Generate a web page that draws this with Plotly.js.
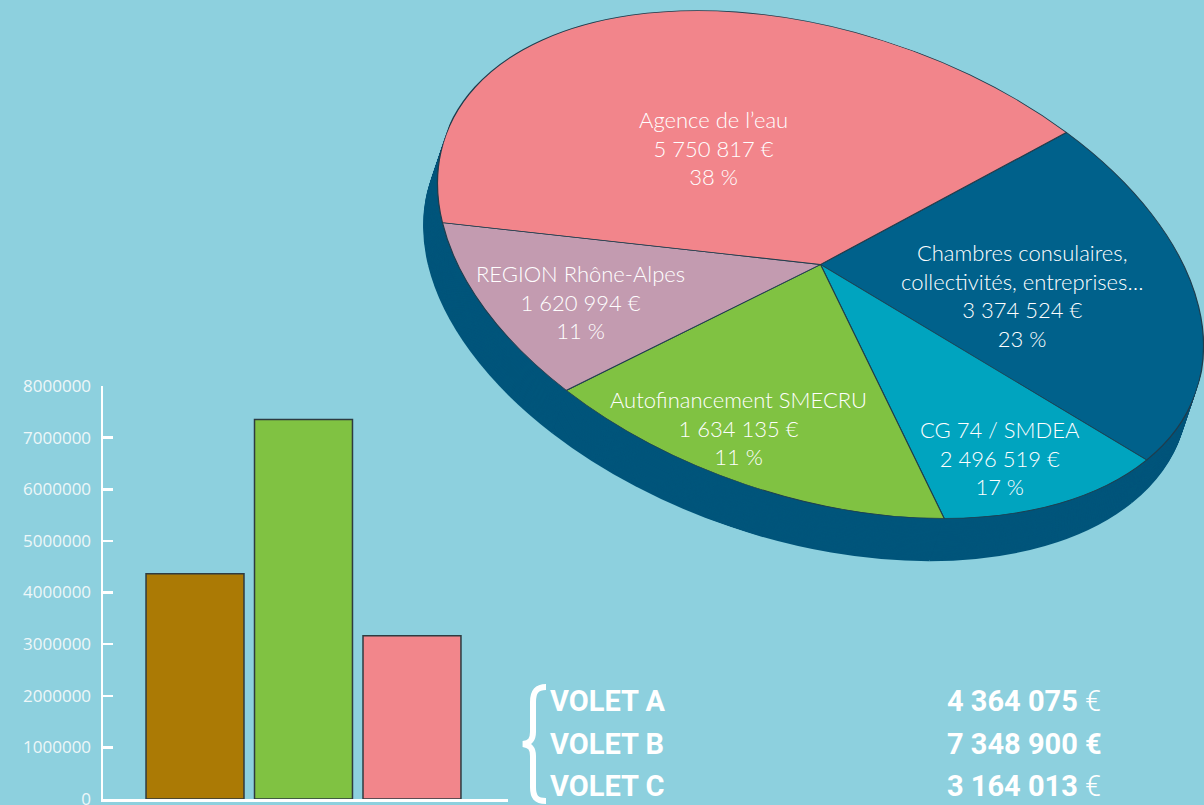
<!DOCTYPE html>
<html><head><meta charset="utf-8">
<script src="https://cdn.plot.ly/plotly-3.0.1.min.js"></script>
<style>
html,body{margin:0;padding:0;width:1204px;height:805px;overflow:hidden;background:#8dd0de;}
#pie{position:absolute;left:423.5px;top:-132.5px;width:793px;height:870px;transform-origin:396.5px 396.5px;transform:rotate(18.6deg) scaleY(0.586);}
#main{position:absolute;left:0;top:0;width:1204px;height:805px;}
</style></head><body>
<div id="pie"></div><div id="main"></div>
<script>
// ---- Pie data (order = wedges clockwise, starting with the dark-blue wedge) ----
const pieLabels = ['Chambres consulaires,<br>collectivités, entreprises…', 'CG 74 / SMDEA', 'Autofinancement SMECRU', 'REGION Rhône-Alpes', 'Agence de l’eau'];
const pieAmounts = [3374524, 2496519, 1634135, 1620994, 5750817];
const piePercents = [23, 17, 11, 11, 38];
// wedge sizes as drawn in the reference (the cyan and green wedges are drawn with each other's amount)
const pieDrawnValues = [3374524, 1634135, 2496519, 1620994, 5750817];
const pieColors = ['#00618b', '#00a4bf', '#80c242', '#c39bb0', '#f2858b'];

// ---- Bar data ----
const voletLabels = ['VOLET A', 'VOLET B', 'VOLET C'];
const voletValues = [4364075, 7348900, 3164013];
const voletColors = ['#ab7a05', '#80c242', '#f2868b'];
const yTickValues = [0, 1000000, 2000000, 3000000, 4000000, 5000000, 6000000, 7000000, 8000000];

function fmt(n){ return String(n).replace(/\B(?=(\d{3})+(?!\d))/g, ' '); }

const W = 1204, HH = 805;
const px = x => x / W, py = y => 1 - y / HH;

// ---- 3D-looking pie: stacked pies for the side wall + top face, tilted with CSS ----
const D = 793, T = 77, H = D + T;
const pieTraces = [];
for (let t = T; t >= 1; t -= 2) {
  pieTraces.push({type:'pie', values: pieDrawnValues, sort:false, direction:'clockwise', rotation:28.8,
    marker:{colors: pieDrawnValues.map(() => '#00557b'), line:{width:0}},
    textinfo:'none', hoverinfo:'skip', showlegend:false,
    domain:{x:[0,1], y:[(H - t - D) / H, (H - t) / H]}});
}
pieTraces.push({type:'pie', values: pieDrawnValues, sort:false, direction:'clockwise', rotation:28.8,
  marker:{colors: pieColors, line:{color:'#1f3d4d', width:1.3}},
  textinfo:'none', hoverinfo:'skip', showlegend:false,
  domain:{x:[0,1], y:[(H - D) / H, 1]}});

Plotly.newPlot('pie', pieTraces, {
  width: D, height: H, margin:{l:0,r:0,t:0,b:0},
  paper_bgcolor:'rgba(0,0,0,0)', plot_bgcolor:'rgba(0,0,0,0)', showlegend:false
}, {staticPlot:true});

// ---- Main figure: bars, axes, texts ----
const labelPos = [[1022, 296], [1000, 458], [738, 428], [580, 302], [713, 148]];
const annotations = [];
pieLabels.forEach((lab, i) => {
  annotations.push({xref:'paper', yref:'paper', x: px(labelPos[i][0]), y: py(labelPos[i][1]),
    xanchor:'center', yanchor:'middle', align:'center', showarrow:false,
    text: lab + '<br>' + fmt(pieAmounts[i]) + ' €<br>' + piePercents[i] + ' %',
    font:{family:'Lato, Open Sans, sans-serif', size:22, color:'#ffffff', weight:300}});
});
const rowY = [701, 744, 786];
voletLabels.forEach((lab, i) => {
  annotations.push({xref:'paper', yref:'paper', x: px(548), y: py(rowY[i]), xanchor:'left', yanchor:'middle',
    showarrow:false, text:'<b>' + lab + '</b>',
    font:{family:'Roboto, Liberation Sans, sans-serif', size:29, color:'#ffffff'}});
  annotations.push({xref:'paper', yref:'paper', x: px(945), y: py(rowY[i]), xanchor:'left', yanchor:'middle',
    showarrow:false, text:'<b>' + fmt(voletValues[i]) + '</b> ' + (i === 1 ? '<b>€</b>' : '€'),
    font:{family:'Roboto, Liberation Sans, sans-serif', size:29, color:'#ffffff', weight:300}});
});

const P = (x, y) => px(x).toFixed(5) + ',' + py(y).toFixed(5);
const bracePath = 'M' + P(546,687) + ' C' + P(536,687) + ' ' + P(533,692) + ' ' + P(533,702) +
  ' L' + P(533,732) + ' C' + P(533,740) + ' ' + P(530,743) + ' ' + P(523,744) +
  ' C' + P(530,745) + ' ' + P(533,748) + ' ' + P(533,756) +
  ' L' + P(533,787) + ' C' + P(533,797) + ' ' + P(536,801) + ' ' + P(546,801);

const xMin = -0.848, xMax = 2.885;
Plotly.newPlot('main', [{
  type:'bar', x:[0,1,2], y: voletValues, width:0.903,
  marker:{color: voletColors, line:{color:'#2e3b40', width:1.5}},
  hoverinfo:'skip', showlegend:false
}], {
  width: W, height: HH, margin:{l:0,r:0,t:0,b:0},
  paper_bgcolor:'rgba(0,0,0,0)', plot_bgcolor:'rgba(0,0,0,0)',
  xaxis:{domain:[px(103), px(508)], range:[xMin, xMax], showgrid:false, zeroline:false,
    showline:true, linecolor:'#ffffff', linewidth:2.5,
    ticks:'inside', tickvals:[xMax - 0.002], ticklen:10, tickwidth:2.5, tickcolor:'#ffffff', showticklabels:false},
  yaxis:{domain:[py(799), py(386)], range:[0, 8000000], showgrid:false, zeroline:false,
    showline:true, linecolor:'#ffffff', linewidth:2.5,
    ticks:'inside', tickvals: yTickValues, ticktext: yTickValues.map(String), ticklen:10, tickwidth:2.5, tickcolor:'#ffffff',
    ticklabelstandoff:6, ticklabeloverflow:'allow',
    tickfont:{family:'Open Sans, sans-serif', size:17, color:'#eef7f9'}},
  annotations: annotations,
  shapes:[{type:'path', xref:'paper', yref:'paper', path: bracePath, line:{color:'#ffffff', width:6}}]
}, {staticPlot:true});
</script>
</body></html>
